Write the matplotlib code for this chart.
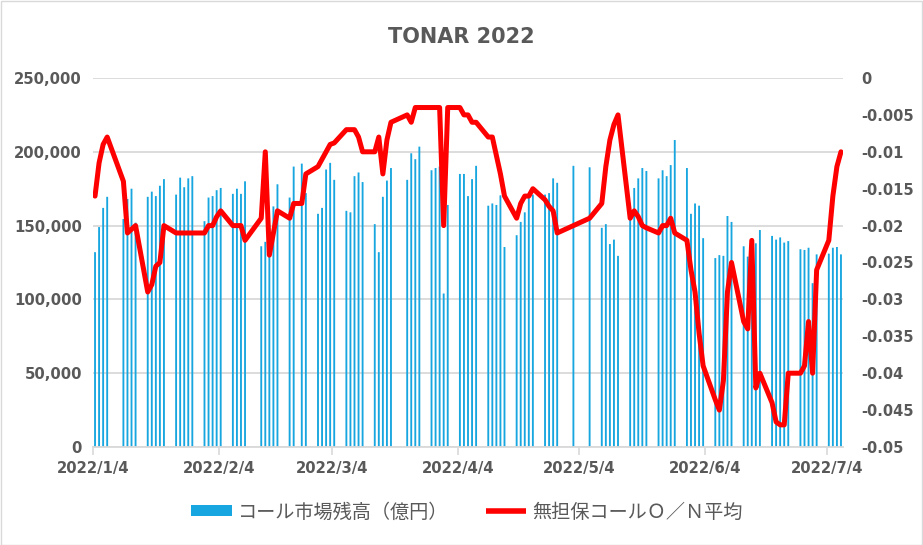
import matplotlib
matplotlib.use('Agg')
import matplotlib.pyplot as plt
import matplotlib.dates as mdates
from matplotlib.ticker import FixedLocator, FuncFormatter, MultipleLocator
from matplotlib.patches import Patch, Rectangle
from matplotlib.lines import Line2D
import datetime as dt

# Business days (2022)
days_jan = [4, 5, 6, 7, 11, 12, 13, 14, 17, 18, 19, 20, 21, 24, 25, 26, 27, 28, 31]
days_feb = [1, 2, 3, 4, 7, 8, 9, 10, 14, 15, 16, 17, 18, 21, 22, 24, 25, 28]
days_mar = [1, 2, 3, 4, 7, 8, 9, 10, 11, 14, 15, 16, 17, 18, 22, 23, 24, 25, 28, 29, 30, 31]
days_apr = [1, 4, 5, 6, 7, 8, 11, 12, 13, 14, 15, 18, 19, 20, 21, 22, 25, 26, 27, 28]
days_may = [2, 6, 9, 10, 11, 12, 13, 16, 17, 18, 19, 20, 23, 24, 25, 26, 27, 30, 31]
days_jun = [1, 2, 3, 6, 7, 8, 9, 10, 13, 14, 15, 16, 17, 20, 21, 22, 23, 24, 27, 28, 29, 30]
days_jul = [1, 4, 5, 6, 7]

# コール市場残高（億円）
balance = [
    132000, 149000, 162000, 169500, 154500, 168000, 175000, 152000, 169500, 173000,
    170000, 177000, 181500, 171000, 182500, 176000, 182000, 183500, 153000,
    169000, 170000, 174000, 175500, 171500, 175000, 171500, 180000, 136000, 139000,
    150000, 163000, 178000, 169000, 190000, 192000, 172000, 158000,
    162000, 188000, 192500, 181000, 160000, 159000, 183500, 186000, 179500, 151000,
    132000, 169500, 180500, 189000, 181000, 199000, 195000, 203500, 187500, 189000,
    190000, 104000,
    164000, 185000, 185000, 170000, 181500, 190500, 163500, 165000, 164000, 170500,
    135500, 143500, 152500, 159000, 169500, 171000, 171000, 172000, 182000, 179000,
    190500, 189500, 148500, 151000, 137500, 140500, 129500, 155000, 175500, 182000,
    189000, 187000, 182000, 187500, 183500, 191000, 208000, 189000, 158000,
    165000, 163500, 141500, 128000, 130000, 129500, 156500, 152500, 136000, 129000,
    138500, 138000, 147000, 143000, 140500, 142000, 138500, 139500, 134000, 133500,
    135000, 111000,
    130500, 131000, 135000, 135500, 130500,
]

# 無担保コールO/N平均
rate = [
    -0.016, -0.0115, -0.009, -0.008, -0.014, -0.021, -0.0205, -0.020, -0.029, -0.028,
    -0.0255, -0.025, -0.020, -0.021, -0.021, -0.021, -0.021, -0.021, -0.021,
    -0.020, -0.020, -0.0188, -0.018, -0.020, -0.020, -0.020, -0.022, -0.019, -0.010,
    -0.024, -0.021, -0.018, -0.019, -0.017, -0.017, -0.013, -0.012,
    -0.011, -0.010, -0.009, -0.0088, -0.007, -0.007, -0.007, -0.008, -0.010, -0.010,
    -0.008, -0.013, -0.0084, -0.006, -0.005, -0.006, -0.004, -0.004, -0.004, -0.004,
    -0.004, -0.020,
    -0.004, -0.004, -0.005, -0.005, -0.006, -0.006, -0.008, -0.008, -0.0105, -0.013,
    -0.016, -0.019, -0.017, -0.016, -0.016, -0.015, -0.0165, -0.0174, -0.018, -0.021,
    -0.020, -0.019, -0.017, -0.012, -0.0084, -0.0063, -0.005, -0.019, -0.018, -0.0188,
    -0.020, -0.0203, -0.021, -0.020, -0.020, -0.019, -0.021, -0.022, -0.026,
    -0.029, -0.0346, -0.039, -0.0436, -0.045, -0.041, -0.029, -0.025, -0.033, -0.034,
    -0.022, -0.042, -0.040, -0.044, -0.0466, -0.047, -0.047, -0.040, -0.040, -0.039,
    -0.033, -0.040,
    -0.026, -0.022, -0.016, -0.012, -0.010,
]

tick_labels = ['2022/1/4', '2022/2/4', '2022/3/4', '2022/4/4', '2022/5/4', '2022/6/4', '2022/7/4']
title = 'TONAR 2022'
bar_label = 'コール市場残高（億円）'
line_label = '無担保コールＯ／Ｎ平均'

months = [(1, days_jan), (2, days_feb), (3, days_mar), (4, days_apr),
          (5, days_may), (6, days_jun), (7, days_jul)]
dates = [dt.date(2022, m, d) for m, ds in months for d in ds]
xnum = mdates.date2num(dates) + 0.5

tick_dates = [dt.date(2022, m, 4) for m in range(1, 8)]
tick_x = mdates.date2num(tick_dates)

GRAY = '#595959'
BLUE = '#17A6DF'
RED = '#FF0000'
plt.rcParams['font.family'] = ['DejaVu Sans']

W, H = 923, 545
fig = plt.figure(figsize=(W / 100, H / 100), dpi=100)
ax = fig.add_axes([93 / W, 1 - 447 / H, (843 - 93) / W, (447 - 78) / H])

ax.bar(xnum, balance, width=0.46, color=BLUE, linewidth=0, snap=False, zorder=2)
ax.set_ylim(0, 250000)
ax.set_xlim(mdates.date2num(dt.date(2022, 1, 4)), mdates.date2num(dt.date(2022, 7, 8)))
ax.yaxis.set_major_locator(MultipleLocator(50000))
ax.yaxis.set_major_formatter(FuncFormatter(lambda v, p: f'{int(v):,}'))
ax.grid(axis='y', color='#D9D9D9', lw=1.3, zorder=0)
ax.set_axisbelow(True)
ax.xaxis.set_major_locator(FixedLocator(tick_x))
ax.set_xticklabels(tick_labels)
ax.tick_params(axis='x', direction='out', length=6, width=1.2, color='#D9D9D9',
               labelsize=10.7, labelcolor=GRAY, pad=4)
ax.tick_params(axis='y', length=0, labelsize=10.7, labelcolor=GRAY, pad=8)
for lab in ax.get_xticklabels() + ax.get_yticklabels():
    lab.set_fontweight('bold')
for s in ['top', 'left', 'right']:
    ax.spines[s].set_visible(False)
ax.spines['bottom'].set_color('#D9D9D9')
ax.spines['bottom'].set_linewidth(1.3)

ax2 = ax.twinx()
ax2.plot(xnum, rate, color=RED, lw=3.6, solid_joinstyle='round', solid_capstyle='round', zorder=3)
ax2.set_ylim(-0.05, 0)
ax2.yaxis.set_major_locator(MultipleLocator(0.005))
def rfmt(v, p):
    if abs(v) < 1e-9:
        return '0'
    return f'{round(v, 3):g}'
ax2.yaxis.set_major_formatter(FuncFormatter(rfmt))
ax2.tick_params(axis='y', length=0, labelsize=10.5, labelcolor=GRAY, pad=13)
for lab in ax2.get_yticklabels():
    lab.set_fontweight('bold')
for s in ax2.spines.values():
    s.set_visible(False)

fig.text(461 / W, 1 - 37 / H, title, ha='center', va='center', fontsize=15,
         fontweight='bold', color=GRAY)

handles = [Patch(facecolor=BLUE, edgecolor='none'),
           Line2D([], [], color=RED, lw=4, solid_capstyle='butt')]
leg = fig.legend(handles, [bar_label, line_label], loc='center',
                 bbox_to_anchor=(467 / W, 1 - 512 / H), ncol=2, frameon=False,
                 prop={'family': ['Noto Sans CJK JP', 'DejaVu Sans'], 'size': 13.8},
                 handlelength=2.1, handleheight=0.55, handletextpad=0.3, columnspacing=2.0)
for t in leg.get_texts():
    t.set_color(GRAY)

fig.patches.append(Rectangle((0.5 / W, 0.5 / H), 1 - 1.5 / W, 1 - 1.5 / H,
                             transform=fig.transFigure, fill=False,
                             edgecolor='#D9D9D9', lw=1))

fig.savefig('out.png', dpi=100, facecolor='white')
